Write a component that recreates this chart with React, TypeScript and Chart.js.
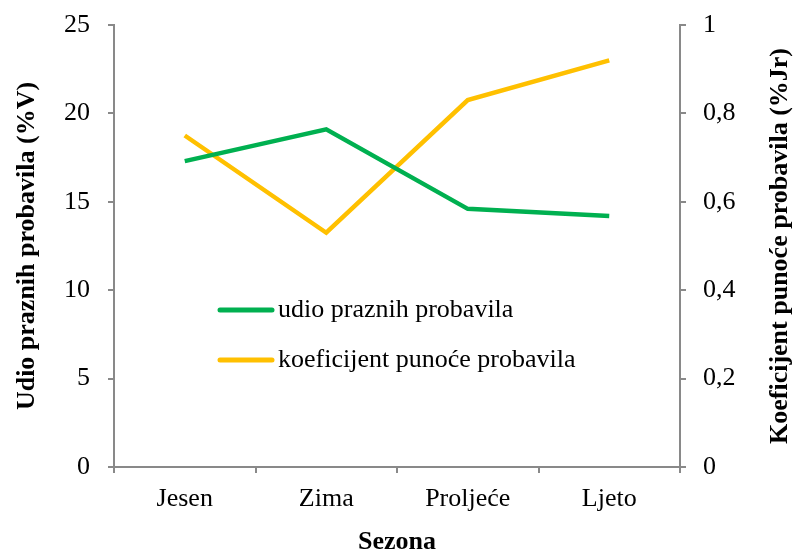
import React, { useEffect, useRef } from "react";
import { Chart, registerables } from "chart.js";

Chart.register(...registerables);

const categories = ["Jesen", "Zima", "Proljeće", "Ljeto"];
const udioPraznih = [17.3, 19.1, 14.6, 14.2];
const koeficijent = [0.75, 0.53, 0.83, 0.92];
const seriesNames = ["udio praznih probavila", "koeficijent punoće probavila"];
const colors = ["#00B050", "#FFC000"];
const rightTitle = "Koeficijent punoće probavila (%Jr)";

const FONT = "'Liberation Serif', 'Times New Roman', serif";
const AXIS = "#898989";

const legendPlugin = {
  id: "insideLegend",
  afterDatasetsDraw(chart: any) {
    const ctx = chart.ctx;
    const { left, top, bottom } = chart.chartArea;
    ctx.save();
    chart.data.datasets.forEach((ds: any, i: number) => {
      const y = top + 285 + i * 50;
      const x0 = left + 106;
      ctx.strokeStyle = ds.borderColor;
      ctx.lineWidth = 5;
      ctx.lineCap = "round";
      ctx.beginPath();
      ctx.moveTo(x0, y);
      ctx.lineTo(x0 + 52, y);
      ctx.stroke();
      ctx.fillStyle = "#000";
      ctx.font = `26px ${FONT}`;
      ctx.textBaseline = "middle";
      ctx.textAlign = "left";
      ctx.fillText(ds.label, x0 + 58, y);
    });
    // right axis title, reading bottom to top
    ctx.translate(780, (top + bottom) / 2);
    ctx.rotate(-Math.PI / 2);
    ctx.font = `bold 26px ${FONT}`;
    ctx.textAlign = "center";
    ctx.textBaseline = "middle";
    ctx.fillStyle = "#000";
    ctx.fillText(rightTitle, 0, 0);
    ctx.restore();
  },
};

export default function App() {
  const ref = useRef<HTMLCanvasElement>(null);
  useEffect(() => {
    if (!ref.current) return;
    const chart = new Chart(ref.current, {
      type: "line",
      data: {
        labels: categories,
        datasets: [
          {
            label: seriesNames[0],
            data: udioPraznih,
            borderColor: colors[0],
            backgroundColor: colors[0],
            borderWidth: 4.5,
            pointRadius: 0,
            tension: 0,
            yAxisID: "y",
          },
          {
            label: seriesNames[1],
            data: koeficijent,
            borderColor: colors[1],
            backgroundColor: colors[1],
            borderWidth: 4.5,
            pointRadius: 0,
            tension: 0,
            yAxisID: "y1",
          },
        ],
      },
      options: {
        responsive: false,
        animation: false,
        layout: { padding: { top: 25, left: 0, right: 0, bottom: 0 } },
        plugins: { legend: { display: false }, tooltip: { enabled: false } },
        scales: {
          x: {
            type: "category",
            offset: true,
            grid: { display: true, drawOnChartArea: false, offset: true, color: AXIS, lineWidth: 2, tickLength: 6 },
            border: { color: AXIS, width: 2 },
            ticks: { color: "#000", font: { family: FONT, size: 26 }, padding: 11, maxRotation: 0 },
            title: {
              display: true,
              text: "Sezona",
              color: "#000",
              font: { family: FONT, size: 26, weight: "bold", lineHeight: 1 },
              padding: { top: 0, bottom: -4 },
            },
            afterFit(scale: any) {
              scale.height = 84;
              scale.paddingLeft = 0;
              scale.paddingRight = 0;
            },
          },
          y: {
            position: "left",
            min: 0,
            max: 25,
            ticks: { stepSize: 5, color: "#000", font: { family: FONT, size: 26 }, padding: 18 },
            grid: { display: true, drawOnChartArea: false, color: AXIS, lineWidth: 2, tickLength: 6 },
            border: { color: AXIS, width: 2 },
            title: {
              display: true,
              text: "Udio praznih probavila (%V)",
              color: "#000",
              font: { family: FONT, size: 26, weight: "bold", lineHeight: 1 },
              padding: { top: 14, bottom: 0 },
            },
            afterFit(scale: any) {
              scale.width = 114;
              scale.paddingTop = 0;
              scale.paddingBottom = 0;
            },
          },
          y1: {
            position: "right",
            min: 0,
            max: 1,
            ticks: {
              stepSize: 0.2,
              color: "#000",
              font: { family: FONT, size: 26 },
              padding: 17,
              callback: (v: any) => String(Math.round(Number(v) * 10) / 10).replace(".", ","),
            },
            grid: { display: true, drawOnChartArea: false, color: AXIS, lineWidth: 2, tickLength: 6 },
            border: { color: AXIS, width: 2 },
            title: { display: false },
            afterFit(scale: any) {
              scale.width = 114;
              scale.paddingTop = 0;
              scale.paddingBottom = 0;
            },
          },
        },
      },
      plugins: [legendPlugin],
    } as any);
    return () => chart.destroy();
  }, []);
  return (
    <div style={{ position: "fixed", left: 0, top: 0, width: 794, height: 551, background: "#fff" }}>
      <canvas ref={ref} width={794} height={551} style={{ width: 794, height: 551, display: "block" }} />
    </div>
  );
}
